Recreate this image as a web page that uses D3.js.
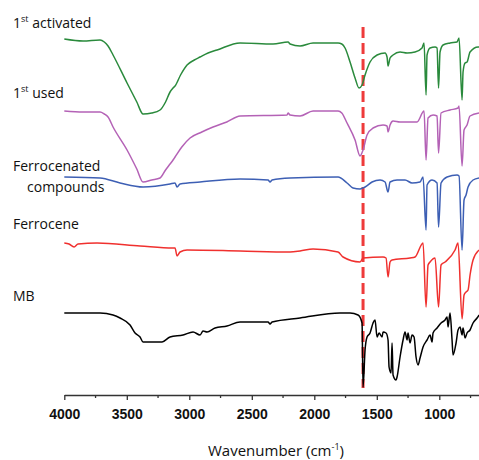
<!DOCTYPE html>
<html>
<head>
<meta charset="utf-8">
<script src="https://d3js.org/d3.v7.min.js"></script>
<style>
  body { margin: 0; background: #fff; }
  * { font-family: 'Open Sans', sans-serif; }
</style>
</head>
<body>
<div id="chart"></div>
<script>
  // spectra, [wavenumber cm-1, intensity (a.u., offset stacked)]
  var activated = [[4000,356],[3850,354],[3714,355],[3680,353],[3650,349],[3610,340],[3498,312],[3420,293],[3370,281],[3300,282],[3234,285],[3190,293],[3154,303],[3130,307],[3114,309],[3070,320],[3018,330],[2960,335],[2914,338],[2850,342],[2778,345],[2594,352],[2330,351],[2210,353],[2194,351],[2114,349],[2010,352],[1810,352],[1780,351],[1754,347],[1714,333],[1674,317],[1642,307],[1618,310],[1594,320],[1554,333],[1498,340],[1434,342],[1418,338],[1410,329],[1394,337],[1370,340],[1314,343],[1258,342],[1194,343],[1138,347],[1122,352],[1106,300],[1098,340],[1074,347],[1034,348],[1018,347],[1006,307],[994,343],[970,350],[914,352],[858,353],[842,357],[818,295],[810,323],[794,332],[778,333],[754,343],[690,348],[682,348]];

  var used = [[4000,284],[3850,283],[3714,283],[3680,281],[3650,278],[3610,268],[3498,245],[3420,226],[3370,213],[3300,215],[3234,217],[3190,225],[3154,231],[3130,235],[3114,238],[3060,248],[2994,257],[2900,263],[2810,268],[2700,273],[2594,279],[2218,280],[2210,282],[2194,280],[2114,279],[2010,284],[1810,284],[1780,282],[1738,272],[1674,255],[1634,239],[1610,245],[1578,260],[1530,267],[1450,270],[1418,269],[1410,263],[1394,270],[1370,274],[1314,273],[1178,273],[1122,284],[1106,235],[1090,277],[1050,280],[1018,279],[1006,242],[986,282],[914,285],[850,287],[842,289],[818,229],[802,265],[778,270],[754,279],[682,282]];

  var ferrocenated = [[4000,218],[3714,217],[3554,212],[3370,208],[3154,211],[3114,212],[3098,208],[3074,211],[2914,213],[2594,216],[2370,215],[2354,213],[2338,215],[2194,217],[1810,218],[1738,212],[1690,207],[1634,206],[1594,208],[1538,213],[1474,215],[1434,213],[1410,203],[1394,213],[1338,215],[1274,215],[1218,212],[1154,213],[1130,218],[1106,165],[1098,210],[1058,215],[1018,212],[1006,168],[986,212],[938,218],[858,220],[842,219],[818,145],[802,195],[786,200],[770,208],[730,215],[682,217]];

  var ferrocene = [[4000,152],[3962,151],[3922,148],[3890,151],[3738,152],[3394,149],[3130,147],[3114,147],[3098,139],[3074,143],[3018,145],[2594,144],[2194,143],[2114,144],[2010,146],[1810,143],[1770,138],[1634,133],[1610,137],[1450,138],[1426,137],[1410,118],[1394,133],[1378,135],[1234,137],[1194,138],[1130,152],[1106,88],[1090,130],[1074,133],[1034,137],[1006,88],[986,130],[954,133],[874,145],[850,152],[818,76],[802,100],[786,103],[770,105],[754,120],[730,135],[682,145]];

  var mb = [[4000,82],[3714,82],[3610,80],[3554,77],[3474,70],[3434,62],[3394,58],[3370,53],[3218,53],[3154,58],[3050,60],[2970,63],[2914,60],[2890,64],[2858,63],[2794,67],[2698,69],[2594,73],[2370,73],[2354,71],[2338,73],[2114,77],[1794,82],[1714,82],[1650,80],[1618,72],[1610,8],[1594,45],[1578,58],[1554,62],[1530,72],[1514,75],[1498,58],[1482,62],[1458,58],[1450,63],[1426,62],[1410,55],[1402,28],[1386,22],[1378,52],[1370,20],[1346,15],[1338,18],[1314,38],[1290,55],[1274,63],[1258,55],[1250,62],[1234,52],[1218,60],[1202,58],[1186,38],[1170,30],[1154,37],[1130,48],[1098,55],[1074,60],[1058,53],[1050,62],[1018,67],[986,72],[954,75],[938,78],[930,68],[914,82],[898,55],[890,40],[866,52],[850,65],[834,68],[818,60],[810,67],[794,57],[778,62],[754,65],[730,72],[698,77],[682,80]];

  var seriesColors = ["#2a8a3c", "#b462b6", "#3d5fb4", "#f0302e", "#000000"];
  var markerWavenumber = 1610;
  var majorTicks = [4000, 3500, 3000, 2500, 2000, 1500, 1000];
  var minorTicks = [3750, 3250, 2750, 2250, 1750, 1250, 750];

  var width = 479, height = 460;
  var svg = d3.select("#chart").append("svg")
    .attr("width", width)
    .attr("height", height);

  var x = d3.scaleLinear().domain([4000, 680]).range([64.3, 479.3]);
  var y = d3.scaleLinear().domain([0, 370]).range([395, 25]);

  // dashed marker
  svg.append("line")
    .attr("x1", x(markerWavenumber)).attr("x2", x(markerWavenumber))
    .attr("y1", y(368)).attr("y2", y(7))
    .attr("stroke", "#ee3b3b")
    .attr("stroke-width", 3)
    .attr("stroke-dasharray", "11,5");

  var line = d3.line()
    .curve(d3.curveMonotoneX)
    .x(function (d) { return x(d[0]); })
    .y(function (d) { return y(d[1]); });

  var allSeries = [activated, used, ferrocenated, ferrocene, mb];
  svg.selectAll("path.spec")
    .data(allSeries)
    .enter()
    .append("path")
    .attr("class", "spec")
    .attr("d", function (d) { return line(d.slice().reverse()); })
    .attr("fill", "none")
    .attr("stroke", function (d, i) { return seriesColors[i]; })
    .attr("stroke-width", 1.5)
    .attr("stroke-linejoin", "round");

  // axis
  var xAxis = svg.append("g")
    .attr("transform", "translate(0,395)")
    .call(d3.axisBottom(x).tickValues(majorTicks).tickFormat(d3.format("d"))
      .tickSize(5).tickSizeOuter(0));
  xAxis.select(".domain").attr("stroke", "#333").attr("stroke-width", 1.3);
  xAxis.selectAll(".tick line").attr("stroke", "#333").attr("stroke-width", 1.3);
  xAxis.selectAll(".tick text")
    .attr("y", 14)
    .style("font-family", "'Liberation Sans', Arial, sans-serif")
    .style("font-size", "14px")
    .style("font-weight", "bold")
    .attr("fill", "#111");

  svg.append("g").selectAll("line")
    .data(minorTicks)
    .enter()
    .append("line")
    .attr("x1", function (d) { return x(d); })
    .attr("x2", function (d) { return x(d); })
    .attr("y1", 395).attr("y2", 398)
    .attr("stroke", "#333").attr("stroke-width", 1.3);

  // x title
  var title = svg.append("text")
    .attr("x", 276).attr("y", 456)
    .attr("text-anchor", "middle")
    .style("font-size", "15px")
    .attr("fill", "#111");
  title.append("tspan").text("Wavenumber (cm");
  title.append("tspan").attr("dy", -6).style("font-size", "9px").text("-1");
  title.append("tspan").attr("dy", 6).text(")");

  // series labels
  function supLabel(px, py, sup, rest) {
    var t = svg.append("text").attr("x", px).attr("y", py)
      .style("font-size", "14px").attr("fill", "#111");
    t.append("tspan").text("1");
    t.append("tspan").attr("dy", -6).style("font-size", "9px").text(sup);
    t.append("tspan").attr("dy", 6).text(rest);
  }
  supLabel(13, 28, "st", " activated");
  supLabel(13, 98, "st", " used");

  svg.append("text").attr("x", 13).attr("y", 171)
    .style("font-size", "14px").attr("fill", "#111").text("Ferrocenated");
  svg.append("text").attr("x", 27).attr("y", 192)
    .style("font-size", "14px").attr("fill", "#111").text("compounds");
  svg.append("text").attr("x", 13).attr("y", 229)
    .style("font-size", "14px").attr("fill", "#111").text("Ferrocene");
  svg.append("text").attr("x", 13).attr("y", 301)
    .style("font-size", "14px").attr("fill", "#111").text("MB");
</script>
</body>
</html>
